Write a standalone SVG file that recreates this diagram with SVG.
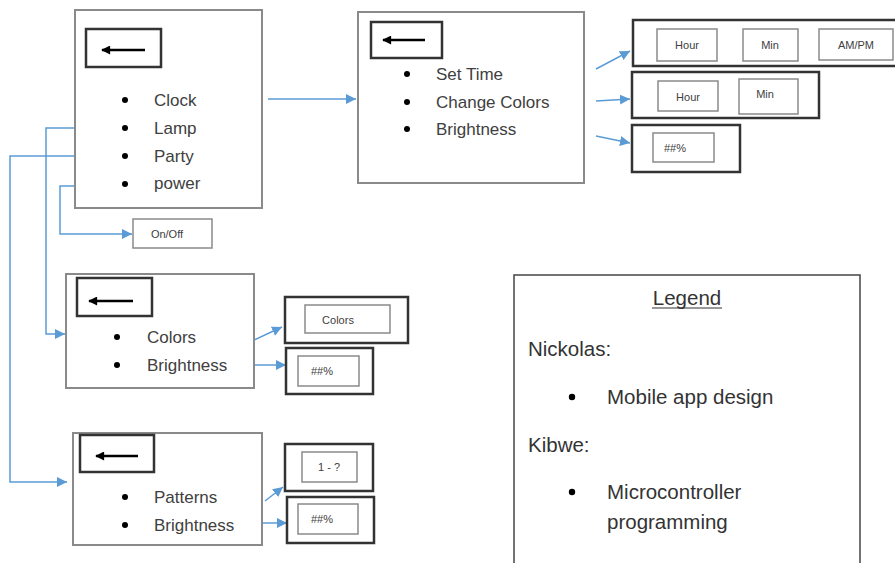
<svg xmlns="http://www.w3.org/2000/svg" width="895" height="563" viewBox="0 0 895 563">
<defs>
<marker id="ah" viewBox="0 0 10 10" refX="10" refY="5" markerWidth="10" markerHeight="10" markerUnits="userSpaceOnUse" orient="auto">
<path d="M0,0 L10,5 L0,10 z" fill="#5B9BD5"/>
</marker>
<marker id="bk" viewBox="0 0 10 10" refX="9" refY="5" markerWidth="10" markerHeight="9" markerUnits="userSpaceOnUse" orient="auto">
<path d="M0,0 L10,5 L0,10 z" fill="#000"/>
</marker>
</defs>
<style>
.panel{fill:#fff;stroke:#8a8a8a;stroke-width:2}
.back{fill:#fff;stroke:#333;stroke-width:2.5}
.barrow{stroke:#000;stroke-width:2.5;fill:none}
.outer{fill:#fff;stroke:#333;stroke-width:2.5}
.inner{fill:#fff;stroke:#8a8a8a;stroke-width:1.5}
.t{font-family:"Liberation Sans",Arial,sans-serif;font-size:17px;fill:#404040}
.s{font-family:"Liberation Sans",Arial,sans-serif;font-size:11px;fill:#404040;text-anchor:middle}
.l{font-family:"Liberation Sans",Arial,sans-serif;font-size:20.5px;fill:#333}
.b{fill:#000}
.c{fill:none;stroke:#5B9BD5;stroke-width:1.5}
</style>
<rect x="0" y="0" width="895" height="563" fill="#fff"/>

<g id="connectors">
<path class="c" d="M268,99 H356" marker-end="url(#ah)"/>
<path class="c" d="M74,128 H46 V334 H65" marker-end="url(#ah)"/>
<path class="c" d="M74,156 H10 V482 H67" marker-end="url(#ah)"/>
<path class="c" d="M74,186 H60 V234 H132" marker-end="url(#ah)"/>
<path class="c" d="M596,69 L630,51" marker-end="url(#ah)"/>
<path class="c" d="M596,101 L630,99" marker-end="url(#ah)"/>
<path class="c" d="M596,136 L630,143" marker-end="url(#ah)"/>
<path class="c" d="M254,340 L282,327" marker-end="url(#ah)"/>
<path class="c" d="M254,365 L286,365" marker-end="url(#ah)"/>
<path class="c" d="M265,501 L283,487" marker-end="url(#ah)"/>
<path class="c" d="M263,523 L287,523" marker-end="url(#ah)"/>
</g>

<g id="main-menu">
<rect class="panel" x="75" y="10" width="187" height="198"/>
<rect class="back" x="86" y="29" width="75" height="38"/>
<line class="barrow" x1="145" y1="50" x2="102" y2="50" marker-end="url(#bk)"/>
<circle class="b" cx="125" cy="100" r="3"/><text class="t" x="154" y="106">Clock</text>
<circle class="b" cx="125" cy="128" r="3"/><text class="t" x="154" y="134">Lamp</text>
<circle class="b" cx="125" cy="156" r="3"/><text class="t" x="154" y="162">Party</text>
<circle class="b" cx="125" cy="184" r="3"/><text class="t" x="154" y="189">power</text>
</g>

<g id="onoff">
<rect class="inner" x="133" y="219" width="79" height="29" stroke-width="1.8"/>
<text class="s" x="167" y="238">On/Off</text>
</g>

<g id="clock-menu">
<rect class="panel" x="358" y="12" width="226" height="171"/>
<rect class="back" x="371" y="22" width="71" height="36"/>
<line class="barrow" x1="425" y1="40" x2="383" y2="40" marker-end="url(#bk)"/>
<circle class="b" cx="407" cy="74" r="3"/><text class="t" x="436" y="80">Set Time</text>
<circle class="b" cx="407" cy="102" r="3"/><text class="t" x="436" y="108">Change Colors</text>
<circle class="b" cx="407" cy="129" r="3"/><text class="t" x="436" y="135">Brightness</text>
</g>

<g id="set-time">
<rect class="outer" x="633" y="20" width="270" height="46"/>
<rect class="inner" x="657" y="29" width="60" height="32"/><text class="s" x="687" y="49">Hour</text>
<rect class="inner" x="743" y="29" width="55" height="32"/><text class="s" x="770" y="49">Min</text>
<rect class="inner" x="819" y="29" width="74" height="31"/><text class="s" x="856" y="49">AM/PM</text>
</g>

<g id="change-colors-time">
<rect class="outer" x="632" y="72" width="187" height="46"/>
<rect class="inner" x="658" y="81" width="60" height="30"/><text class="s" x="688" y="101">Hour</text>
<rect class="inner" x="739" y="79" width="59" height="35"/><text class="s" x="765" y="98">Min</text>
</g>

<g id="clock-brightness">
<rect class="outer" x="632" y="125" width="108" height="47"/>
<rect class="inner" x="653" y="133" width="61" height="29"/><text class="s" x="675" y="152">##%</text>
</g>

<g id="lamp-menu">
<rect class="panel" x="66" y="274" width="188" height="114"/>
<rect class="back" x="77" y="278" width="75" height="38"/>
<line class="barrow" x1="133" y1="301" x2="89" y2="301" marker-end="url(#bk)"/>
<circle class="b" cx="117" cy="337" r="3"/><text class="t" x="147" y="343">Colors</text>
<circle class="b" cx="117" cy="365" r="3"/><text class="t" x="147" y="371">Brightness</text>
</g>

<g id="lamp-colors">
<rect class="outer" x="285" y="297" width="123" height="46"/>
<rect class="inner" x="305" y="305" width="85" height="28"/><text class="s" x="338" y="324">Colors</text>
</g>

<g id="lamp-brightness">
<rect class="outer" x="286" y="348" width="87" height="46"/>
<rect class="inner" x="298" y="356" width="61" height="30"/><text class="s" x="322" y="375">##%</text>
</g>

<g id="party-menu">
<rect class="panel" x="73" y="433" width="189" height="112"/>
<rect class="back" x="80" y="435" width="74" height="37"/>
<line class="barrow" x1="138" y1="456" x2="96" y2="456" marker-end="url(#bk)"/>
<circle class="b" cx="125" cy="497" r="3"/><text class="t" x="154" y="503">Patterns</text>
<circle class="b" cx="125" cy="525" r="3"/><text class="t" x="154" y="531">Brightness</text>
</g>

<g id="party-patterns">
<rect class="outer" x="285" y="444" width="88" height="47"/>
<rect class="inner" x="302" y="452" width="55" height="30"/><text class="s" x="329" y="471">1 - ?</text>
</g>

<g id="party-brightness">
<rect class="outer" x="287" y="497" width="87" height="46"/>
<rect class="inner" x="298" y="504" width="60" height="30"/><text class="s" x="322" y="523">##%</text>
</g>

<g id="legend">
<rect x="514" y="275" width="346" height="295" fill="#fff" stroke="#444" stroke-width="1.5"/>
<text class="l" x="687" y="305" text-anchor="middle">Legend</text>
<line x1="652" y1="308" x2="722" y2="308" stroke="#333" stroke-width="1.2"/>
<text class="l" x="528" y="356">Nickolas:</text>
<circle class="b" cx="572" cy="397" r="3.2"/><text class="l" x="607" y="404">Mobile app design</text>
<text class="l" x="528" y="452">Kibwe:</text>
<circle class="b" cx="572" cy="492" r="3.2"/><text class="l" x="607" y="499">Microcontroller</text>
<text class="l" x="607" y="529">programming</text>
</g>
</svg>
